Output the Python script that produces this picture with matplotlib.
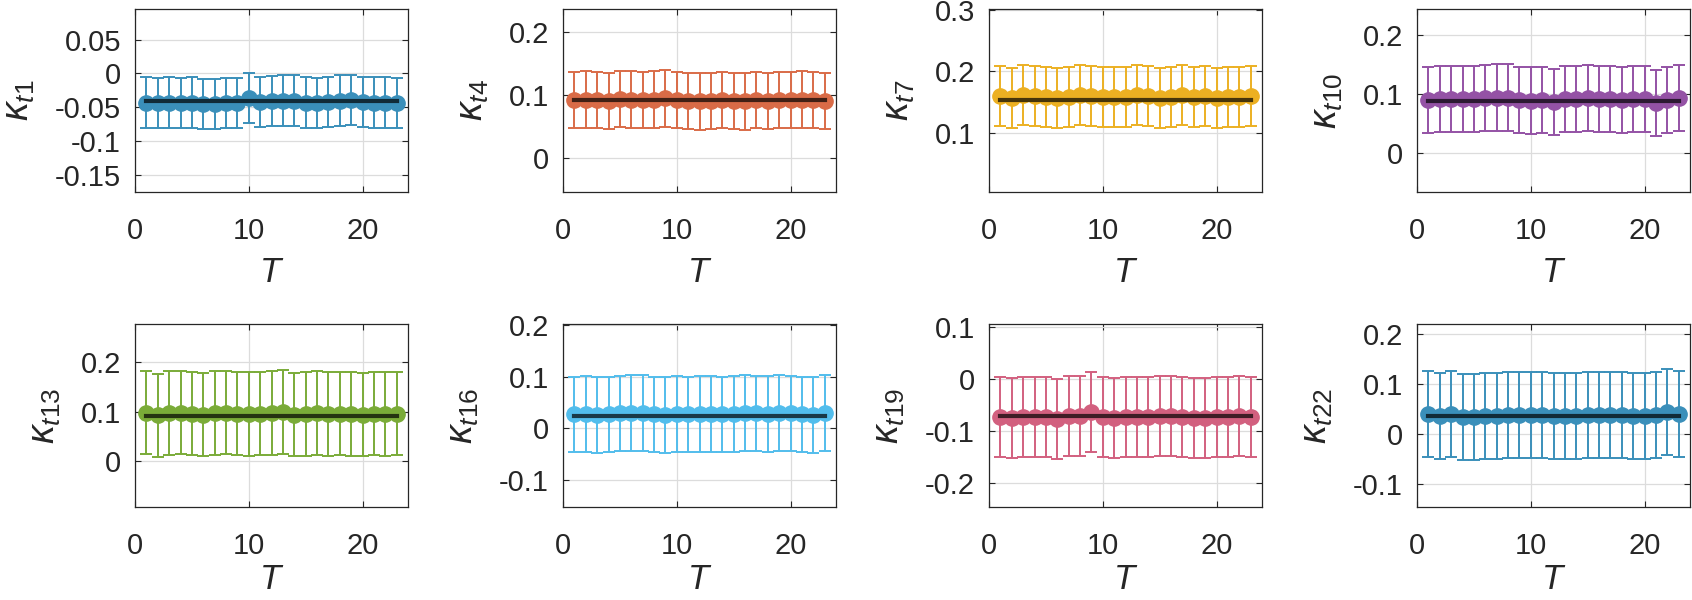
import matplotlib
matplotlib.use('Agg')
import matplotlib.pyplot as plt
import numpy as np

plt.rcParams['font.family'] = ['Liberation Sans', 'DejaVu Sans']
plt.rcParams['mathtext.fontset'] = 'custom'
plt.rcParams['mathtext.it'] = 'Liberation Sans:italic'
plt.rcParams['mathtext.rm'] = 'Liberation Sans'

T = np.arange(1, 24)

labels = ['t1', 't4', 't7', 't10', 't13', 't16', 't19', 't22']
colors = ['#3a8fba', '#d96b47', '#ecb022', '#9452a5', '#7aab38', '#52bdec', '#d2607f', '#3a8fba']

k_t1 = [-0.043, -0.044, -0.043, -0.044, -0.043, -0.045, -0.045, -0.044, -0.044, -0.036, -0.042, -0.041,
        -0.040, -0.040, -0.043, -0.044, -0.042, -0.040, -0.039, -0.042, -0.043, -0.043, -0.044]
k_t4 = [0.092, 0.093, 0.092, 0.091, 0.094, 0.093, 0.092, 0.093, 0.095, 0.092, 0.091, 0.090,
        0.091, 0.092, 0.091, 0.090, 0.092, 0.091, 0.092, 0.092, 0.093, 0.092, 0.091]
k_t7 = [0.160, 0.156, 0.161, 0.160, 0.158, 0.157, 0.159, 0.161, 0.160, 0.159, 0.158, 0.159,
        0.161, 0.160, 0.157, 0.158, 0.161, 0.158, 0.160, 0.157, 0.159, 0.158, 0.160]
k_t10 = [0.090, 0.091, 0.092, 0.091, 0.092, 0.093, 0.094, 0.094, 0.090, 0.089, 0.090, 0.087,
         0.091, 0.092, 0.093, 0.091, 0.092, 0.090, 0.091, 0.092, 0.085, 0.090, 0.093]
k_t13 = [0.098, 0.092, 0.097, 0.098, 0.096, 0.094, 0.097, 0.098, 0.096, 0.095, 0.096, 0.097,
         0.099, 0.094, 0.095, 0.097, 0.095, 0.096, 0.095, 0.094, 0.096, 0.095, 0.096]
k_t16 = [0.027, 0.028, 0.026, 0.027, 0.029, 0.030, 0.030, 0.027, 0.026, 0.028, 0.027, 0.028,
         0.028, 0.027, 0.028, 0.030, 0.029, 0.028, 0.030, 0.029, 0.027, 0.026, 0.030]
k_t19 = [-0.073, -0.075, -0.073, -0.072, -0.073, -0.076, -0.071, -0.071, -0.063, -0.073, -0.074, -0.073,
         -0.073, -0.072, -0.071, -0.071, -0.072, -0.075, -0.074, -0.073, -0.072, -0.071, -0.073]
k_t22 = [0.040, 0.037, 0.041, 0.034, 0.034, 0.036, 0.037, 0.039, 0.038, 0.038, 0.039, 0.037,
         0.037, 0.037, 0.038, 0.038, 0.039, 0.038, 0.036, 0.037, 0.038, 0.044, 0.040]
means = [k_t1, k_t4, k_t7, k_t10, k_t13, k_t16, k_t19, k_t22]

errs = [0.037, 0.045, 0.049, 0.056, 0.084, 0.073, 0.077, 0.086]
pooled = [-0.040, 0.092, 0.153, 0.088, 0.091, 0.0245, -0.0705, 0.037]

ylims = [(-0.175, 0.095), (-0.054, 0.237), (0.003, 0.302), (-0.066, 0.244),
         (-0.093, 0.277), (-0.152, 0.202), (-0.246, 0.106), (-0.146, 0.22)]
yticks = [[-0.15, -0.1, -0.05, 0, 0.05], [0, 0.1, 0.2], [0.1, 0.2, 0.3], [0, 0.1, 0.2],
          [0, 0.1, 0.2], [-0.1, 0, 0.1, 0.2], [-0.2, -0.1, 0, 0.1], [-0.1, 0, 0.1, 0.2]]

fig = plt.figure(figsize=(16.92, 6), dpi=100)
lefts = [135, 563, 989, 1417]
for i in range(8):
    r, c = divmod(i, 4)
    top = 9 if r == 0 else 324
    ax = fig.add_axes([lefts[c] / 1692, 1 - (top + 183) / 600, 273 / 1692, 183 / 600])
    col = colors[i]
    y = np.array(means[i])
    ax.errorbar(T, y, yerr=errs[i], fmt='none', ecolor=col, elinewidth=1.4,
                capsize=4.5, capthick=1.4, zorder=2)
    ax.plot(T, y, 'o', color=col, markersize=11, zorder=3)
    dark = tuple(np.array(matplotlib.colors.to_rgb(col)) * 0.3)
    ax.plot([T[0], T[-1]], [pooled[i], pooled[i]], color=dark, lw=3, zorder=4)
    ax.set_xlim(0, 24)
    ax.set_ylim(*ylims[i])
    ax.set_xticks([0, 10, 20])
    ax.set_yticks(yticks[i])
    ax.set_yticklabels(['%g' % v for v in yticks[i]])
    ax.grid(True, color='#dcdcdc', lw=0.9)
    ax.set_axisbelow(True)
    ax.tick_params(direction='in', length=4, width=0.8, labelsize=21, colors='#262626',
                   top=True, right=True, pad=10)
    ax.tick_params(axis='x', pad=18)
    for s in ax.spines.values():
        s.set_color('#262626')
        s.set_linewidth(0.9)
    ax.set_xlabel('$T$', fontsize=25, labelpad=8 if r == 0 else 2, color='#262626')
    ax.set_ylabel(r'$\kappa_{%s}$' % labels[i], fontsize=27, labelpad=13, color='#262626')

fig.savefig('out.png', dpi=100)
